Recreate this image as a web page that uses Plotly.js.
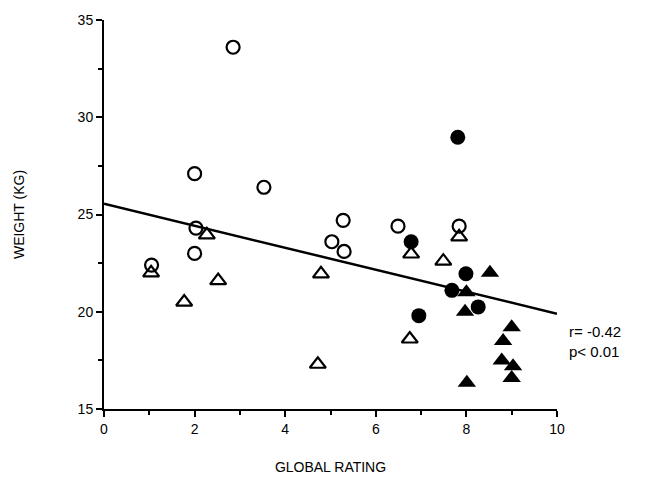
<!DOCTYPE html>
<html>
<head>
<meta charset="utf-8">
<script src="https://cdn.plot.ly/plotly-3.0.1.min.js"></script>
<style>html,body{margin:0;padding:0;background:#fff}#chart{width:657px;height:485px}</style>
</head>
<body>
<div id="chart"></div>
<script>
// Open circles
const openCircleX = [2.85, 2.0, 3.53, 1.05, 2.03, 2.0, 5.28, 5.03, 5.3, 6.49, 7.84];
const openCircleY = [33.6, 27.1, 26.4, 22.4, 24.3, 23.0, 24.7, 23.6, 23.1, 24.4, 24.4];
// Open triangles
const openTriX = [1.04, 1.77, 2.27, 2.52, 4.79, 4.72, 6.78, 6.75, 7.49, 7.84];
const openTriY = [22.0, 20.5, 23.95, 21.6, 21.95, 17.3, 22.97, 18.6, 22.6, 23.85];
// Filled circles
const fillCircleX = [7.81, 6.78, 6.95, 7.99, 7.68, 8.26];
const fillCircleY = [28.97, 23.6, 19.8, 21.95, 21.1, 20.25];
// Filled triangles
const fillTriX = [8.52, 8.0, 7.97, 9.0, 8.81, 8.78, 9.03, 9.0, 8.01];
const fillTriY = [22.0, 21.0, 20.0, 19.2, 18.5, 17.5, 17.2, 16.6, 16.35];
// Regression line
const lineX = [0, 10];
const lineY = [25.55, 19.9];
const statText = ["r= -0.42", "p< 0.01"];

const font = {family: 'Liberation Sans, Arial, sans-serif', color: '#000'};
const traces = [
  {x: lineX, y: lineY, mode: 'lines', line: {color: '#000', width: 2.5}, hoverinfo: 'skip'},
  {x: openCircleX, y: openCircleY, mode: 'markers', cliponaxis: false,
   marker: {symbol: 'circle-open', size: 13, color: '#000', line: {width: 2.2, color: '#000'}}},
  {x: openTriX, y: openTriY, mode: 'markers', cliponaxis: false,
   marker: {symbol: 'triangle-up-open', size: 14, color: '#000', line: {width: 2.2, color: '#000'}}},
  {x: fillCircleX, y: fillCircleY, mode: 'markers', cliponaxis: false,
   marker: {symbol: 'circle', size: 15, color: '#000'}},
  {x: fillTriX, y: fillTriY, mode: 'markers', cliponaxis: false,
   marker: {symbol: 'triangle-up', size: 16, color: '#000'}}
];

const layout = {
  width: 657, height: 485,
  margin: {l: 104, r: 100, t: 20, b: 75.5},
  paper_bgcolor: '#fff', plot_bgcolor: '#fff',
  showlegend: false,
  font: Object.assign({size: 14}, font),
  xaxis: {
    range: [0, 10], dtick: 2, tick0: 0, showgrid: false, zeroline: false,
    showline: true, linecolor: '#000', linewidth: 2,
    ticks: 'outside', ticklen: 6, tickwidth: 2, tickcolor: '#000',
    minor: {dtick: 1, ticks: 'outside', ticklen: 4, tickwidth: 2, tickcolor: '#000', showgrid: false},
    tickfont: Object.assign({size: 14}, font),
    title: {text: 'GLOBAL RATING', font: Object.assign({size: 14}, font), standoff: 26}
  },
  yaxis: {
    range: [15, 35], dtick: 5, tick0: 15, showgrid: false, zeroline: false,
    showline: true, linecolor: '#000', linewidth: 2,
    ticks: 'outside', ticklen: 6, tickwidth: 2, tickcolor: '#000',
    minor: {dtick: 2.5, ticks: 'outside', ticklen: 4, tickwidth: 2, tickcolor: '#000', showgrid: false},
    tickfont: Object.assign({size: 14}, font),
    title: {text: 'WEIGHT (KG)', font: Object.assign({size: 14}, font), standoff: 50}
  },
  annotations: [
    {xref: 'paper', yref: 'paper', x: 1.022, y: 0.173, xanchor: 'left', yanchor: 'middle',
     text: statText.join('<br>'), showarrow: false, align: 'left',
     font: Object.assign({size: 15}, font)}
  ]
};

Plotly.newPlot('chart', traces, layout, {staticPlot: true});
</script>
</body>
</html>
